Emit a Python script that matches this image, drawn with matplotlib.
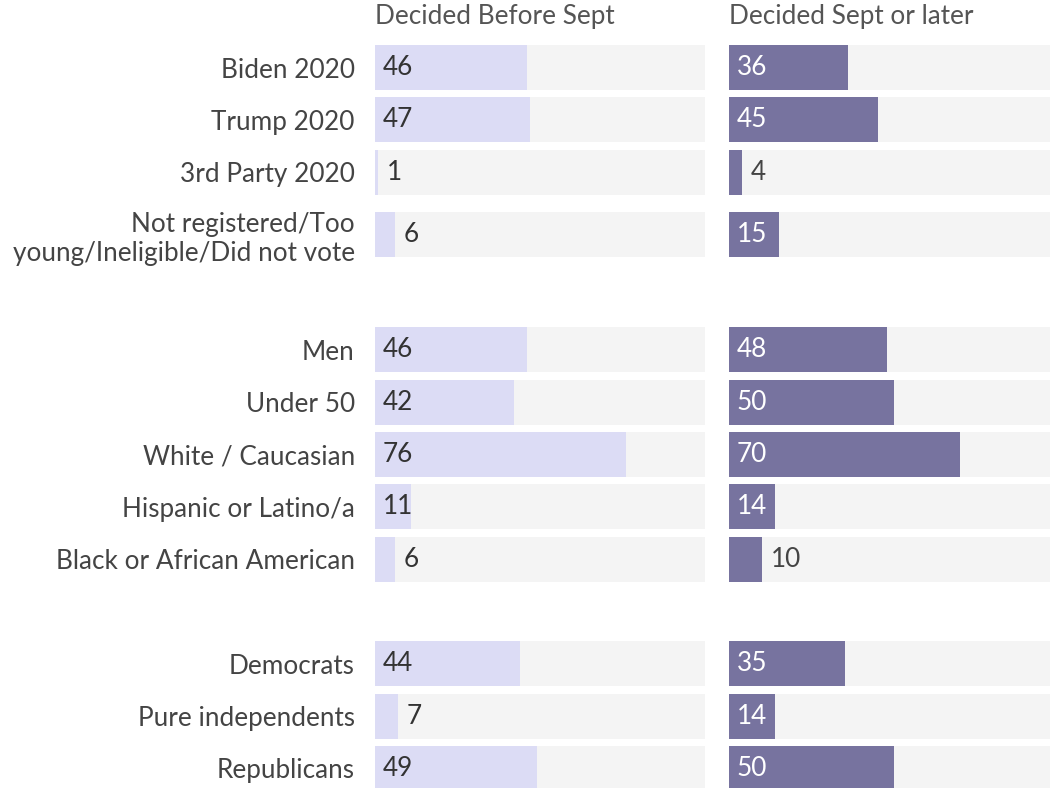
import matplotlib.pyplot as plt

plt.rcParams['font.family'] = ['Lato', 'DejaVu Sans']

# row labels, top to bottom
categories = [
    'Biden 2020', 'Trump 2020', '3rd Party 2020',
    'Not registered/Too\nyoung/Ineligible/Did not vote',
    'Men', 'Under 50', 'White / Caucasian', 'Hispanic or Latino/a',
    'Black or African American',
    'Democrats', 'Pure independents', 'Republicans',
]
before_sept = [46, 47, 1, 6, 46, 42, 76, 11, 6, 44, 7, 49]
sept_or_later = [36, 45, 4, 15, 48, 50, 70, 14, 10, 35, 14, 50]

# vertical slot of each row (groups separated by a gap)
row_pos = [0, 1, 2, 3.2, 5.4, 6.4, 7.4, 8.4, 9.4, 11.4, 12.4, 13.4]

W, H = 1050, 788
row_px = 52.3
top_px = 67.5
bar_h = 45 / row_px
ylim = ((H - top_px) / row_px, -top_px / row_px)
fs = 18.8

fig = plt.figure(figsize=(W / 100, H / 100), dpi=100)
fig.patch.set_facecolor('white')

panels = [
    ('Decided Before Sept', before_sept, '#dcdcf5', '#333333', '#333333', 375, 330),
    ('Decided Sept or later', sept_or_later, '#77739f', 'white', '#444444', 729, 321),
]

for i, (title, vals, color, in_col, out_col, x0, w) in enumerate(panels):
    ax = fig.add_axes([x0 / W, 0, w / W, 1])
    ax.set_xlim(0, w / 3.3)
    ax.set_ylim(*ylim)
    ax.barh(row_pos, [100] * len(vals), height=bar_h, color='#f4f4f4', zorder=1)
    ax.barh(row_pos, vals, height=bar_h, color=color, zorder=2)
    for y, v in zip(row_pos, vals):
        if v >= 11:
            ax.text(2.4, y, str(v), va='center', ha='left', fontsize=fs,
                    color=in_col, zorder=3)
        else:
            ax.text(v + 2.7, y, str(v), va='center', ha='left', fontsize=fs,
                    color=out_col, zorder=3)
    ax.text(0, -0.97, title, va='center', ha='left', fontsize=fs, color='#555555')
    for s in ax.spines.values():
        s.set_visible(False)
    ax.set_xticks([])
    if i == 0:
        ax.set_yticks(row_pos, categories)
        ax.tick_params(axis='y', length=0, pad=14.5, labelsize=fs,
                       labelcolor='#444444')
    else:
        ax.set_yticks([])

fig.savefig('out.png', dpi=100, facecolor='white')
